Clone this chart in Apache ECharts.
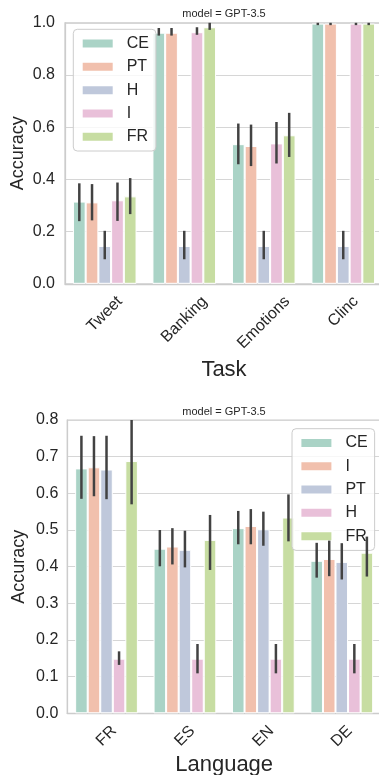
<!DOCTYPE html>
<html>
<head>
<meta charset="utf-8">
<script src="https://cdn.jsdelivr.net/npm/echarts@6/dist/echarts.min.js"></script>
<style>
  html, body { margin: 0; padding: 0; background: #fff; width: 379px; height: 775px; overflow: hidden; }
  #task { position: absolute; left: 0; top: 0; width: 379px; height: 395px; }
  #lang { position: absolute; left: 0; top: 395px; width: 379px; height: 380px; }
</style>
</head>
<body>
<div id="task"></div>
<div id="lang"></div>
<script>
// GPT-3.5 accuracy per task and per language for five prompt variants.
// Each variant: mean accuracy per category, plus its confidence interval [low, high].

// ---- Task panel ----
const taskCategories = ['Tweet', 'Banking', 'Emotions', 'Clinc'];
const taskVariants = ['CE', 'PT', 'H', 'I', 'FR'];
const taskCE = [0.315, 0.962, 0.535, 0.997];
const taskCEci = [[0.240, 0.385], [0.951, 0.980], [0.458, 0.614], [0.991, 1.004]];
const taskPT = [0.312, 0.962, 0.528, 0.997];
const taskPTci = [[0.243, 0.382], [0.951, 0.980], [0.451, 0.610], [0.991, 1.004]];
const taskH = [0.145, 0.145, 0.145, 0.145];
const taskHci = [[0.094, 0.203], [0.094, 0.203], [0.094, 0.203], [0.094, 0.203]];
const taskI = [0.320, 0.964, 0.538, 0.997];
const taskIci = [[0.241, 0.388], [0.954, 0.983], [0.461, 0.620], [0.991, 1.004]];
const taskFR = [0.335, 0.983, 0.569, 0.997];
const taskFRci = [[0.267, 0.405], [0.973, 1.003], [0.486, 0.655], [0.991, 1.004]];
const taskTicks = { min: 0, max: 1.0, step: 0.2 };

// ---- Language panel ----
const langCategories = ['FR', 'ES', 'EN', 'DE'];
const langVariants = ['CE', 'I', 'PT', 'H', 'FR'];
const langCE = [0.668, 0.449, 0.505, 0.416];
const langCEci = [[0.585, 0.757], [0.401, 0.500], [0.461, 0.552], [0.370, 0.465]];
const langI = [0.671, 0.455, 0.511, 0.421];
const langIci = [[0.592, 0.756], [0.406, 0.505], [0.461, 0.557], [0.374, 0.471]];
const langPT = [0.665, 0.446, 0.502, 0.413];
const langPTci = [[0.584, 0.757], [0.398, 0.498], [0.457, 0.550], [0.365, 0.464]];
const langH = [0.149, 0.149, 0.149, 0.149];
const langHci = [[0.132, 0.169], [0.109, 0.189], [0.109, 0.189], [0.109, 0.189]];
const langFR = [0.688, 0.473, 0.534, 0.438];
const langFRci = [[0.570, 0.810], [0.391, 0.541], [0.469, 0.597], [0.373, 0.482]];
const langTicks = { min: 0, max: 0.8, step: 0.1 };

// Soft pastel palette, one colour per bar position in a group
const palette = ['#aad3c6', '#f1c0ad', '#bfc8db', '#e9c0d9', '#c7dda2'];
const FONT = 'Liberation Sans';
const INK = '#262626';
const GRID_LINE = '#d6d6d6';
const SPINE = '#cccccc';
const TICK_FONT_SIZE = 16;

const measureCtx = document.createElement('canvas').getContext('2d');
function textWidth(text, size) {
  measureCtx.font = size + 'px "' + FONT + '"';
  return measureCtx.measureText(text).width;
}

function buildPanel(el, cfg) {
  const chart = echarts.init(el, null, { renderer: 'canvas' });
  const n = cfg.variants.length;
  const groupShare = 0.8;

  const series = cfg.variants.map((name, i) => ({
    type: 'bar',
    name: name,
    data: cfg.means[i],
    barGap: '0%',
    barCategoryGap: '20%',
    silent: true,
    z: 2,
    itemStyle: { color: palette[i], borderColor: '#ffffff', borderWidth: 1 }
  }));

  // confidence-interval whiskers, drawn at the centre of each bar
  const whiskers = [];
  cfg.cis.forEach((ci, v) => ci.forEach((pair, c) => whiskers.push([c, v, pair[0], pair[1]])));
  series.push({
    type: 'custom',
    data: whiskers,
    encode: { x: 0, y: [2, 3] },
    silent: true,
    z: 5,
    renderItem(params, api) {
      const c = api.value(0);
      const v = api.value(1);
      const band = api.size([1, 0])[0];
      const x = api.coord([c, 0])[0] + (v - (n - 1) / 2) * band * groupShare / n;
      const topEdge = params.coordSys.y;
      const yHigh = Math.max(api.coord([c, api.value(3)])[1], topEdge);
      const yLow = api.coord([c, api.value(2)])[1];
      return {
        type: 'line',
        shape: { x1: x, y1: yHigh, x2: x, y2: yLow },
        style: { stroke: '#424242', lineWidth: 2.5, lineCap: 'butt' }
      };
    }
  });

  // category tick labels, rotated 45° and centred under their tick
  series.push({
    type: 'custom',
    data: cfg.categories.map((_, i) => [i, cfg.ticks.min]),
    encode: { x: 0, y: 1 },
    silent: true,
    clip: false,
    z: 10,
    renderItem(params, api) {
      const c = api.value(0);
      const base = api.coord([c, cfg.ticks.min]);
      const name = cfg.categories[c];
      const len = textWidth(name, TICK_FONT_SIZE);
      return {
        type: 'text',
        x: base[0],
        y: base[1] + 15.2 + len * Math.SQRT1_2 / 2,
        rotation: Math.PI / 4,
        style: {
          text: name,
          fontSize: TICK_FONT_SIZE,
          fontFamily: FONT,
          fill: INK,
          align: 'center',
          verticalAlign: 'middle'
        }
      };
    }
  });

  chart.setOption({
    animation: false,
    backgroundColor: '#ffffff',
    textStyle: { fontFamily: FONT, color: INK },
    title: {
      text: 'model = GPT-3.5',
      left: cfg.titleX,
      top: cfg.titleTop,
      padding: 0,
      textAlign: 'center',
      textStyle: { fontSize: 11, fontWeight: 'normal', color: INK, fontFamily: FONT }
    },
    legend: {
      data: cfg.variants,
      orient: 'vertical',
      left: cfg.legendLeft,
      top: cfg.legendTop,
      icon: 'rect',
      itemWidth: 32,
      itemHeight: 10,
      itemGap: 7.3,
      padding: [6.25, 7, 6.25, 7.4],
      selectedMode: false,
      backgroundColor: 'rgba(255,255,255,0.8)',
      borderColor: SPINE,
      borderWidth: 1,
      borderRadius: 4,
      textStyle: { fontSize: 16, lineHeight: 16, color: INK, fontFamily: FONT, padding: [0, 0, 0, 8] }
    },
    grid: {
      left: cfg.grid.left, top: cfg.grid.top, width: cfg.grid.width, height: cfg.grid.height,
      show: true, borderColor: SPINE, borderWidth: 1.25, backgroundColor: 'transparent',
      containLabel: false, outerBoundsMode: 'none'
    },
    xAxis: {
      type: 'category',
      data: cfg.categories,
      name: cfg.xName,
      nameLocation: 'middle',
      nameGap: cfg.xNameGap,
      nameMoveOverlap: false,
      nameTextStyle: { fontSize: 22, color: INK, fontFamily: FONT },
      axisLine: { show: true, lineStyle: { color: SPINE, width: 1.25 } },
      axisTick: { show: false },
      splitLine: { show: false },
      axisLabel: { show: false }
    },
    yAxis: {
      type: 'value',
      min: cfg.ticks.min,
      max: cfg.ticks.max,
      interval: cfg.ticks.step,
      name: 'Accuracy',
      nameLocation: 'middle',
      nameGap: cfg.yNameGap,
      nameMoveOverlap: false,
      nameTextStyle: { fontSize: 18, color: INK, fontFamily: FONT },
      axisLine: { show: true, lineStyle: { color: SPINE, width: 1.25 } },
      axisTick: { show: false },
      splitLine: { show: true, lineStyle: { color: GRID_LINE, width: 1.2 } },
      axisLabel: {
        margin: cfg.yLabelMargin, fontSize: TICK_FONT_SIZE, color: INK, fontFamily: FONT,
        formatter: v => v.toFixed(1)
      }
    },
    series: series
  });
  return chart;
}

buildPanel(document.getElementById('task'), {
  categories: taskCategories,
  variants: taskVariants,
  means: [taskCE, taskPT, taskH, taskI, taskFR],
  cis: [taskCEci, taskPTci, taskHci, taskIci, taskFRci],
  ticks: taskTicks,
  xName: 'Task',
  xNameGap: 75,
  yNameGap: 38,
  yLabelMargin: 10,
  grid: { left: 65, top: 22.8, width: 318, height: 261 },
  legendLeft: 73.3,
  legendTop: 29.3,
  titleX: 224,
  titleTop: 8.9
});

buildPanel(document.getElementById('lang'), {
  categories: langCategories,
  variants: langVariants,
  means: [langCE, langI, langPT, langH, langFR],
  cis: [langCEci, langIci, langPTci, langHci, langFRci],
  ticks: langTicks,
  xName: 'Language',
  xNameGap: 40.7,
  yNameGap: 39,
  yLabelMargin: 9,
  grid: { left: 67.3, top: 25, width: 313.7, height: 293.3 },
  legendLeft: 292,
  legendTop: 33.7,
  titleX: 224,
  titleTop: 11.7
});
</script>
</body>
</html>
